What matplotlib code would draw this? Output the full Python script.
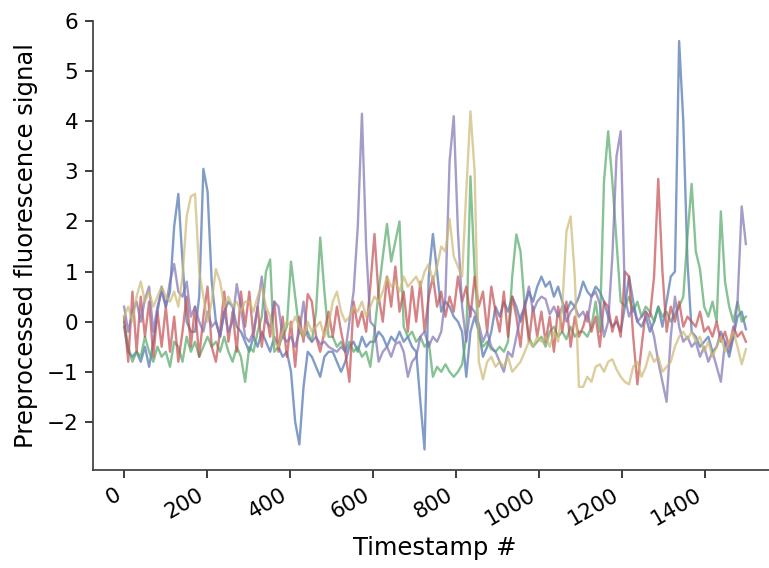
import numpy as np
import matplotlib
matplotlib.use('Agg')
import matplotlib.pyplot as plt

# timestamps of the sampled points (every ~10 frames)
timestamps = np.linspace(0, 1499, 150)

# one preprocessed trace per cell
cell_blue = [
    -0.1, -0.6, -0.7, -0.6, -0.8, -0.5, -0.9, -0.4, 0.2, 0.7,
    0.3, 0.6, 1.9, 2.55, 1.2, 0.0, -0.2, -0.2, 0.5, 3.05,
    2.6, 0.8, 0.0, -0.3, 0.2, 0.4, 0.3, -0.1, -0.2, -0.4,
    -0.6, -0.3, -0.5, -0.2, -0.4, -0.6, -0.3, -0.5, -0.7, -0.6,
    -1.0, -2.0, -2.45, -1.3, -0.6, -0.7, -0.9, -1.1, -0.7, -0.6,
    -0.6, -0.8, -1.0, -0.8, -0.5, -0.4, -0.6, -0.3, -0.5, -0.4,
    -0.4, -0.2, -0.3, -0.5, -0.3, -0.4, -0.2, -0.4, -0.3, -0.5,
    -0.6, -1.6, -2.55, 0.9, 1.75, 1.0, 0.2, 0.4, 0.3, 0.1,
    0.0, -0.2, -1.1, -0.2, 0.1, -0.2, -0.7, -0.5, -0.2, 0.3,
    0.1, 0.4, 0.2, 0.5, 0.3, 0.0, 0.3, 0.6, 0.4, 0.7,
    0.9, 0.7, 0.8, 0.5, 0.7, 0.4, 0.2, 0.4, 0.3, 0.5,
    0.8, 0.6, 0.5, 0.7, 0.6, 0.4, 0.1, -0.1, 0.0, -0.2,
    0.3, 0.9, 0.4, 0.0, -0.1, 0.1, -0.2, 0.0, 0.3, -0.1,
    0.4, 0.9, 1.0, 5.6, 4.0, 1.2, -0.2, -0.3, -0.5, -0.4,
    -0.3, -0.6, -0.5, -0.2, -0.4, -0.7, -0.3, 0.1, 0.2, -0.15,
]
cell_green = [
    0.0, -0.5, -0.8, -0.6, -0.7, -0.3, -0.6, -0.8, -0.5, -0.7,
    -0.6, -0.9, -0.4, -0.5, -0.8, -0.3, -0.6, -0.4, -0.7, -0.5,
    -0.3, -0.5, -0.4, -0.6, -0.3, -0.6, -0.8, -0.5, -0.7, -1.2,
    -0.5, -0.6, -0.2, 0.1, 1.0, 1.24, -0.6, -0.5, -0.3, -0.1,
    1.2, 0.5, -0.2, -0.3, -0.2, -0.4, 0.2, 1.68, 0.6, -0.3,
    -0.3, -0.5, -0.4, -0.6, -0.4, -0.6, -0.5, -0.7, -0.6, -0.9,
    -0.2, 0.6, 1.3, 1.95, 1.2, 1.6, 2.0, -0.1, -0.3, -0.2,
    -0.4, -0.3, -0.5, -0.4, -1.1, -0.9, -1.0, -0.85, -1.0, -1.1,
    -1.0, -0.85, -0.3, 2.9, 1.0, -0.3, -0.5, -0.4, -0.55, -0.6,
    -0.5, -0.6, -0.4, 0.9, 1.74, 1.4, 0.3, -0.3, -0.5, -0.4,
    -0.3, -0.5, -0.2, -0.1, -0.3, -0.2, -0.35, -0.1, -0.3, -0.2,
    -0.2, -0.3, -0.1, 0.4, -0.2, 2.8, 3.8, 2.8, 1.6, 0.4,
    0.3, 0.5, 0.2, 0.4, 0.1, 0.3, 0.2, 0.0, 0.3, 0.1,
    0.2, 0.0, 0.15, 0.3, 0.5, 1.7, 2.75, 1.4, 1.05, 0.3,
    0.1, 0.4, 0.0, 2.2, 0.8, 0.3, 0.0, 0.4, 0.0, 0.1,
]
cell_red = [
    0.1, -0.8, 0.6, -0.6, 0.5, -0.3, 0.4, -0.7, 0.2, -0.5,
    0.3, -0.6, 0.1, -0.8, -0.2, 0.5, -0.5, 0.3, -0.7, 0.1,
    0.7, -0.5, -0.8, -0.2, 0.6, -0.4, 0.2, -0.6, 0.6, -0.1,
    0.6, -0.3, 0.3, -0.5, 0.2, -0.3, 0.4, -0.6, 0.1, -0.7,
    0.0, -0.9, 0.1, -0.4, 0.55, 0.4, -0.3, -0.6, -0.2, 0.2,
    -0.3, 0.3, -0.2, -0.6, -1.2, 0.4, -0.1, 0.2, -0.2, 0.7,
    1.75, 0.5, 0.0, 0.9, 0.3, 1.1, 0.2, 0.6, -0.2, 0.7,
    0.0, 0.8, -0.2, 0.5, 0.9, 0.3, 0.6, 0.1, 0.5, 0.2,
    0.9, 0.4, 0.7, 0.1, 0.9, 0.3, 0.6, -0.2, 0.7, 0.2,
    -0.2, 0.6, -0.3, 0.5, 0.1, -0.5, 0.4, -0.4, 0.3, -0.3,
    0.2, -0.4, 0.1, -0.6, 0.3, -0.2, 0.4, -0.5, 0.1, -0.3,
    -0.1, 0.2, -0.2, 0.1, -0.5, 0.4, 0.3, -0.2, 0.1, -0.3,
    1.0, 0.9, -0.3, -1.25, -0.5, 0.2, 0.1, 0.9, 2.85, 1.0,
    -0.2, 0.3, 0.0, 0.4, -0.1, 0.1, 0.0, -0.1, 0.2, -0.2,
    -0.1, -0.3, 0.0, -0.4, -0.2, -0.5, -0.1, -0.3, -0.2, -0.4,
]
cell_purple = [
    0.3, -0.2, 0.2, 0.4, 0.0, 0.45, 0.7, -0.2, 0.3, 0.6,
    0.3, 0.8, 1.15, 0.6, 0.5, 0.8, 0.1, 0.3, 0.0, -0.2,
    0.2, -0.1, 0.0, -0.3, 0.2, -0.2, 0.0, 0.75, 0.3, -0.3,
    -0.4, -0.2, 0.3, 0.9, 0.0, -0.1, 0.4, 0.3, -0.3, -0.4,
    -0.3, -0.5, -0.2, 0.4, -0.3, -0.4, -0.3, -0.45, -0.4, -0.5,
    -0.55, -0.6, -0.5, -0.6, 0.0, 0.6, 1.9, 4.15, 1.5, 0.0,
    -0.1, -0.8, -0.6, -0.5, -0.7, -0.45, -0.4, -0.6, -1.1, -0.8,
    -0.7, -0.3, -0.2, -0.5, -0.3, -0.4, -0.2, 0.5, 3.2, 4.1,
    1.8, 0.3, -0.4, 0.3, 0.2, -0.05, -0.4, -0.2, -0.5, -0.6,
    -0.8, -1.0, -0.6, -0.7, -0.3, 0.1, 0.3, 0.7, 0.2, 0.4,
    0.5, 0.45, 0.15, 0.3, 0.1, 0.3, 0.0, 0.2, 0.3, 0.1,
    0.2, 0.0, 0.5, 0.6, 0.35, -0.3, 0.0, 1.3, 3.3, 3.8,
    0.5, 0.1, 0.3, 0.0, 0.1, 0.2, 0.0, -0.3, -0.8, -1.2,
    -1.6, -0.3, 0.5, -0.1, -0.4, -0.3, -0.5, -0.4, -0.7, -0.5,
    -0.8, -0.6, -0.9, -1.2, -0.4, -0.6, -0.3, 0.4, 2.3, 1.55,
]
cell_yellow = [
    0.1, 0.3, 0.0, 0.5, 0.8, 0.4, 0.6, 0.3, 0.5, 0.7,
    0.5, 0.4, 0.6, 0.3, 0.9, 2.1, 2.5, 2.55, 1.0, 0.5,
    0.0, 0.4, 1.05, 0.8, 0.3, 0.5, 0.3, 0.4, 0.2, 0.4,
    0.4, 0.2, 0.5, 0.7, 0.3, 0.1, -0.4, -0.5, -0.2, 0.0,
    -0.1, 0.1, -0.1, -0.3, 0.0, -0.2, -0.1, 0.0, -0.3, -0.1,
    0.4, 0.6, 0.2, 0.0, 0.1, 0.3, 0.2, 0.4, 0.1, 0.3,
    0.5, 0.4, 0.6, 0.9, 0.7, 0.8, 0.6, 0.9, 0.7, 0.8,
    0.9, 0.7, 1.0, 1.15, 0.8, 1.1, 1.5, 1.4, 2.05, 1.3,
    1.1, 0.9, 2.6, 4.2, 3.0, -0.8, -1.15, -0.8, -0.7, -0.9,
    -0.8, -0.9, -0.7, -1.0, -0.9, -0.8, -0.6, -0.4, -0.5, -0.3,
    -0.4, -0.3, -0.5, -0.2, -0.4, 0.3, 1.8, 2.1, 0.9, -1.3,
    -1.3, -1.1, -1.2, -0.9, -0.85, -1.0, -0.8, -0.75, -0.95, -1.1,
    -1.2, -1.25, -0.9, -0.8, -1.1, -0.9, -0.6, -0.8, -0.7, -1.0,
    -0.9, -0.8, -0.5, -0.3, -0.2, -0.35, -0.2, -0.4, -0.3, -0.6,
    -0.4, -0.7, -0.5, -0.3, -0.6, -0.4, -0.2, -0.5, -0.85, -0.55,
]

traces = [cell_blue, cell_green, cell_red, cell_purple, cell_yellow]
colors = ['#4C72B0', '#55A868', '#C44E52', '#8172B2', '#CCB974']

fig = plt.figure(figsize=(7.69, 5.68), dpi=100)
ax = fig.add_axes([0.1209, 0.1725, 0.8895, 0.7905])

for trace, col in zip(traces, colors):
    ax.plot(timestamps, trace, color=col, alpha=0.7, lw=1.7)

ax.set_ylim(-2.96, 6.0)
ax.set_xlim(-75, 1574)
ax.set_xticks(np.arange(0, 1401, 200))
ax.set_yticks(np.arange(-2, 7, 1))

for side in ['top', 'right']:
    ax.spines[side].set_visible(False)
for side in ['left', 'bottom']:
    ax.spines[side].set_color('0.25')
    ax.spines[side].set_linewidth(1.25)
ax.tick_params(axis='both', length=6, width=1.25, labelsize=15.5, pad=4.5, color='0.15')
plt.setp(ax.get_xticklabels(), rotation=30, ha='right')

ax.set_xlabel('Timestamp #', fontsize=17.5, labelpad=5)
ax.set_ylabel('Preprocessed fluorescence signal', fontsize=17.5, labelpad=6)

fig.savefig('out.png', dpi=100)
